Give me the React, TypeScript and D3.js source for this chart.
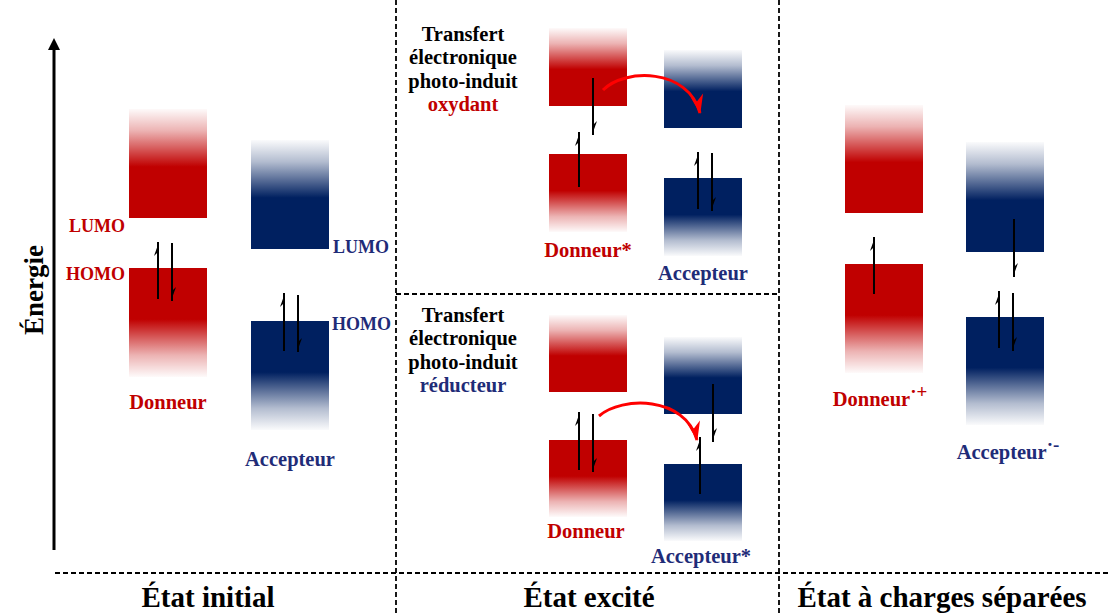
import React from 'react';
import * as d3 from 'd3';

// energy diagram: 1 unit = 10 px, energy measured up from the bottom of the axis
const W = 1111;
const H = 613;

const RED = '#c00000';
const BLUE = '#002060';
const RED_TXT = '#c00000';
const BLUE_TXT = '#1f2c78';

const stateTitles = ['État initial', 'État excité', 'État à charges séparées'];
const stateTitleX = [20.8, 58.9, 94.2];
const panelDividers = [39.6, 77.9];

// band boxes: left edge, top and bottom energy, which side fades, colour
const boxLeft = [12.9, 25.1, 54.9, 66.4, 84.5, 96.6];
const bands = [
  { col: 0, top: 44.1, bottom: 33.2, fade: 'top', color: 'red' },
  { col: 0, top: 28.2, bottom: 17.3, fade: 'bottom', color: 'red' },
  { col: 1, top: 41.0, bottom: 30.1, fade: 'top', color: 'blue' },
  { col: 1, top: 22.9, bottom: 12.0, fade: 'bottom', color: 'blue' },
  { col: 2, top: 52.2, bottom: 44.4, fade: 'top', color: 'red' },
  { col: 2, top: 39.6, bottom: 31.8, fade: 'bottom', color: 'red' },
  { col: 3, top: 50.0, bottom: 42.2, fade: 'top', color: 'blue' },
  { col: 3, top: 37.2, bottom: 29.4, fade: 'bottom', color: 'blue' },
  { col: 2, top: 23.5, bottom: 15.8, fade: 'top', color: 'red' },
  { col: 2, top: 11.0, bottom: 3.3, fade: 'bottom', color: 'red' },
  { col: 3, top: 21.3, bottom: 13.6, fade: 'top', color: 'blue' },
  { col: 3, top: 8.6, bottom: 0.9, fade: 'bottom', color: 'blue' },
  { col: 4, top: 44.5, bottom: 33.7, fade: 'top', color: 'red' },
  { col: 4, top: 28.6, bottom: 17.7, fade: 'bottom', color: 'red' },
  { col: 5, top: 40.8, bottom: 29.8, fade: 'top', color: 'blue' },
  { col: 5, top: 23.3, bottom: 12.5, fade: 'bottom', color: 'blue' },
];
const BAND_W = 7.8;

// electron spins: x, start energy, end energy (up if end > start)
const spins = [
  { x: 15.8, from: 25.1, to: 30.8 },
  { x: 17.2, from: 30.7, to: 24.9 },
  { x: 28.4, from: 19.9, to: 25.7 },
  { x: 29.8, from: 25.5, to: 19.8 },
  { x: 59.3, from: 47.2, to: 41.5 },
  { x: 57.9, from: 36.3, to: 41.8 },
  { x: 69.8, from: 34.1, to: 39.8 },
  { x: 71.2, from: 39.7, to: 33.9 },
  { x: 57.9, from: 8.0, to: 13.8 },
  { x: 59.3, from: 13.6, to: 7.8 },
  { x: 71.3, from: 16.6, to: 10.8 },
  { x: 70.0, from: 5.6, to: 11.3 },
  { x: 87.4, from: 25.6, to: 31.3 },
  { x: 101.4, from: 33.1, to: 27.3 },
  { x: 99.9, from: 20.2, to: 25.9 },
  { x: 101.3, from: 25.7, to: 19.9 },
];

// photo-induced transfer arrows: start, two control points, end
const transfers = [
  [[60.3, 46.0], [62.5, 48.2], [68.8, 48.2], [70.0, 43.7]],
  [[59.9, 13.4], [62.2, 15.4], [68.5, 15.4], [69.7, 11.0]],
];

const molLabels = [
  { x: 16.8, y: 14.1, text: 'Donneur', sup: '', color: RED_TXT },
  { x: 29.0, y: 8.4, text: 'Accepteur', sup: '', color: BLUE_TXT },
  { x: 58.8, y: 29.3, text: 'Donneur*', sup: '', color: RED_TXT },
  { x: 70.3, y: 27.0, text: 'Accepteur', sup: '', color: BLUE_TXT },
  { x: 58.6, y: 1.2, text: 'Donneur', sup: '', color: RED_TXT },
  { x: 70.1, y: -1.3, text: 'Accepteur*', sup: '', color: BLUE_TXT },
  { x: 88.0, y: 14.4, text: 'Donneur', sup: '·+', color: RED_TXT },
  { x: 100.8, y: 9.1, text: 'Accepteur', sup: '·-', color: BLUE_TXT },
];

const orbitalLabels = [
  { x: 12.5, y: 31.8, text: 'LUMO', anchor: 'end', color: RED_TXT },
  { x: 12.5, y: 27.0, text: 'HOMO', anchor: 'end', color: RED_TXT },
  { x: 33.3, y: 29.7, text: 'LUMO', anchor: 'start', color: BLUE_TXT },
  { x: 33.2, y: 22.0, text: 'HOMO', anchor: 'start', color: BLUE_TXT },
];

const transferTitles = [
  { y: 50.9, lines: ['Transfert', 'électronique', 'photo-induit'], kind: 'oxydant', color: RED_TXT },
  { y: 22.8, lines: ['Transfert', 'électronique', 'photo-induit'], kind: 'réducteur', color: BLUE_TXT },
];
const transferTitleX = 46.3;

const x = d3.scaleLinear().domain([0, 111.1]).range([0, W]);
const y = d3.scaleLinear().domain([0, 51.2]).range([550, 38]);

const SERIF = '"Liberation Serif", "Times New Roman", serif';

export default function App() {
  const curve = (pts: number[][]) => {
    const p = d3.path();
    p.moveTo(x(pts[0][0]), y(pts[0][1]));
    p.bezierCurveTo(x(pts[1][0]), y(pts[1][1]), x(pts[2][0]), y(pts[2][1]), x(pts[3][0]), y(pts[3][1]));
    return p.toString();
  };

  const spinPath = (s: { x: number; from: number; to: number }) => {
    const sx = x(s.x);
    const y0 = y(s.from);
    const y1 = y(s.to);
    const up = s.to > s.from;
    const p = d3.path();
    if (up) {
      p.moveTo(sx - 4, y1 + 14);
      p.lineTo(sx + 1, y1);
      p.lineTo(sx + 1, y1 + 9);
      p.closePath();
    } else {
      p.moveTo(sx + 4, y1 - 14);
      p.lineTo(sx - 1, y1);
      p.lineTo(sx - 1, y1 - 9);
      p.closePath();
    }
    return { line: [sx, y0, sx, y1], head: p.toString() };
  };

  const dash = '5,3';

  return (
    <svg width={W} height={H} style={{ position: 'absolute', left: 0, top: 0, background: '#fff' }}>
      <defs>
        {['red', 'blue'].map(c => {
          const col = c === 'red' ? RED : BLUE;
          return (
            <React.Fragment key={c}>
              <linearGradient id={`${c}-top`} x1="0" y1="0" x2="0" y2="1">
                <stop offset="0" stopColor={col} stopOpacity={0.02} />
                <stop offset="0.2" stopColor={col} stopOpacity={0.3} />
                <stop offset="0.53" stopColor={col} stopOpacity={1} />
                <stop offset="1" stopColor={col} stopOpacity={1} />
              </linearGradient>
              <linearGradient id={`${c}-bottom`} x1="0" y1="0" x2="0" y2="1">
                <stop offset="0" stopColor={col} stopOpacity={1} />
                <stop offset="0.47" stopColor={col} stopOpacity={1} />
                <stop offset="0.8" stopColor={col} stopOpacity={0.3} />
                <stop offset="1" stopColor={col} stopOpacity={0.02} />
              </linearGradient>
            </React.Fragment>
          );
        })}
        <marker id="red-head" viewBox="-20 -9 22 18" refX={0} refY={0} markerWidth={22} markerHeight={18}
          markerUnits="userSpaceOnUse" orient="auto">
          <path d="M1,0 L-18,-8 L-12,0 L-18,5 Z" fill="#ff0000" />
        </marker>
      </defs>

      {/* panel dividers */}
      {panelDividers.map((d, i) => (
        <line key={i} x1={x(d)} x2={x(d)} y1={0} y2={H} stroke="#000" strokeWidth={1.8} strokeDasharray={dash} />
      ))}
      <line x1={x(5.5)} x2={W} y1={573} y2={573} stroke="#000" strokeWidth={1.8} strokeDasharray={dash} />
      <line x1={x(panelDividers[0])} x2={x(panelDividers[1])} y1={294} y2={294} stroke="#000" strokeWidth={1.8} strokeDasharray={dash} />

      {/* energy axis */}
      <line x1={x(5.4)} x2={x(5.4)} y1={y(0)} y2={y(50)} stroke="#000" strokeWidth={3} />
      <path d={`M${x(5.4)},${y(51.2)} L${x(5.4) - 6},${y(50)} L${x(5.4) + 6},${y(50)} Z`} fill="#000" />
      <text transform={`translate(43,${y(26)}) rotate(-90)`} textAnchor="middle" fontFamily={SERIF}
        fontWeight="bold" fontSize={27} fill="#000">Énergie</text>

      {/* bands */}
      {bands.map((b, i) => (
        <rect key={i} x={x(boxLeft[b.col])} y={y(b.top)} width={x(BAND_W)} height={y(b.bottom) - y(b.top)}
          fill={`url(#${b.color}-${b.fade})`} />
      ))}

      {/* electrons */}
      {spins.map((s, i) => {
        const a = spinPath(s);
        return (
          <g key={i}>
            <line x1={a.line[0]} y1={a.line[1]} x2={a.line[2]} y2={a.line[3]} stroke="#000" strokeWidth={2} />
            <path d={a.head} fill="#000" />
          </g>
        );
      })}

      {/* transfer arrows */}
      {transfers.map((t, i) => (
        <path key={i} d={curve(t)} fill="none" stroke="#ff0000" strokeWidth={3} markerEnd="url(#red-head)" />
      ))}

      {/* orbital labels */}
      {orbitalLabels.map((l, i) => (
        <text key={i} x={x(l.x)} y={y(l.y)} textAnchor={l.anchor} fontFamily={SERIF} fontWeight="bold"
          fontSize={18} fill={l.color}>{l.text}</text>
      ))}

      {/* molecule labels */}
      {molLabels.map((l, i) => (
        <text key={i} x={x(l.x)} y={y(l.y)} textAnchor="middle" fontFamily={SERIF} fontWeight="bold"
          fontSize={20.5} fill={l.color}>
          {l.text}
          {l.sup && <tspan dy={-8} fontSize={19}>{l.sup}</tspan>}
        </text>
      ))}

      {/* transfer titles */}
      {transferTitles.map((t, i) => (
        <text key={i} x={x(transferTitleX)} y={y(t.y)} textAnchor="middle" fontFamily={SERIF}
          fontWeight="bold" fontSize={20.5} fill="#000">
          {t.lines.map((ln, j) => (
            <tspan key={j} x={x(transferTitleX)} dy={j === 0 ? 0 : 23.3}>{ln}</tspan>
          ))}
          <tspan x={x(transferTitleX)} dy={23.3} fill={t.color}>{t.kind}</tspan>
        </text>
      ))}

      {/* state titles */}
      {stateTitles.map((s, i) => (
        <text key={i} x={x(stateTitleX[i])} y={607} textAnchor="middle" fontFamily={SERIF} fontWeight="bold"
          fontSize={29} fill="#000">{s}</text>
      ))}
    </svg>
  );
}
